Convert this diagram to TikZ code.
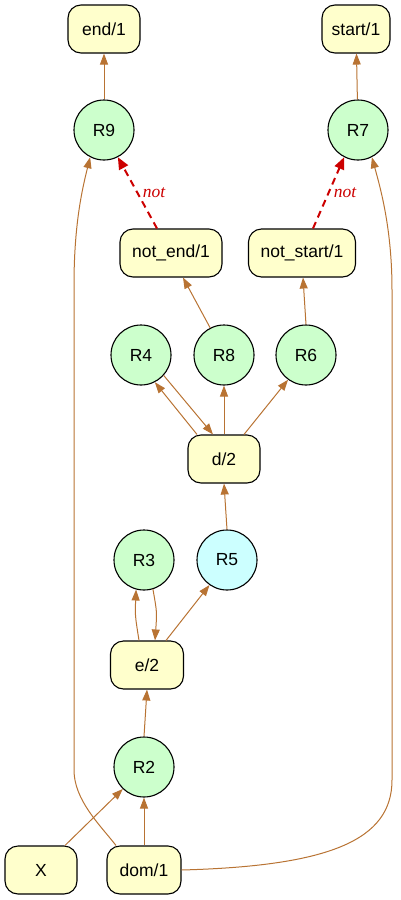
\documentclass[tikz,border=0pt]{standalone}
\usepackage{fontspec}
\setmainfont{Liberation Sans}
\newfontfamily\notfont{Liberation Serif}
\usetikzlibrary{arrows.meta}
\definecolor{boxfill}{HTML}{FFFFCC}
\definecolor{rulefill}{HTML}{CCFFCC}
\definecolor{rulecyan}{HTML}{CCFFFF}
\definecolor{edgecol}{HTML}{B87333}
\definecolor{negcol}{HTML}{CC0000}
\tikzset{
  pred/.style={draw=black, line width=1.1pt, fill=boxfill, rounded corners=13pt, minimum height=48pt, inner sep=0pt, font=\fontsize{17.5}{20}\selectfont},
  rulenode/.style={draw=black, line width=1.1pt, fill=rulefill, circle, minimum size=60pt, inner sep=0pt, font=\fontsize{17.5}{20}\selectfont},
  edge/.style={draw=edgecol, line width=1pt, -{Triangle[length=11pt,width=8pt]}},
  negedge/.style={draw=negcol, line width=2pt, dash pattern=on 7pt off 5pt, -{Triangle[length=12pt,width=10pt]}},
  notlabel/.style={text=negcol, font=\notfont\itshape\fontsize{17.5}{20}\selectfont}
}
\begin{document}
\begin{tikzpicture}[x=1pt,y=-1pt]
\useasboundingbox (0,0) rectangle (400,900);
% predicate nodes
\node[pred, minimum width=72pt] (end) at (104,29) {end/1};
\node[pred, minimum width=68pt] (start) at (356,29) {start/1};
\node[pred, minimum width=102pt] (notend) at (171,253) {not\_end/1};
\node[pred, minimum width=107pt] (notstart) at (302,253) {not\_start/1};
\node[pred, minimum width=72pt] (d) at (224,459) {d/2};
\node[pred, minimum width=73pt] (e) at (147,665) {e/2};
\node[pred, minimum width=72pt] (X) at (41,870) {X};
\node[pred, minimum width=74pt] (dom) at (144,870) {dom/1};
% rule nodes
\node[rulenode] (R9) at (104,130) {R9};
\node[rulenode] (R7) at (358,130) {R7};
\node[rulenode] (R4) at (141,355) {R4};
\node[rulenode] (R8) at (224,355) {R8};
\node[rulenode] (R6) at (306,355) {R6};
\node[rulenode] (R3) at (144,560) {R3};
\node[rulenode, fill=rulecyan] (R5) at (227,560) {R5};
\node[rulenode] (R2) at (144,767) {R2};
% edges
\draw[edge] (R9) -- (end);
\draw[edge] (R7) -- (start);
\draw[negedge] ([xshift=-14pt]notend.north) -- (R9.-63)
  node[notlabel, pos=0.5, right, xshift=1pt] {not};
\draw[negedge] ([xshift=11pt]notstart.north) -- (R7.-117)
  node[notlabel, pos=0.5, right, xshift=1pt] {not};
\draw[edge] (R8.117) -- ([xshift=12pt]notend.south);
\draw[edge] (R6.north) -- ([xshift=1pt]notstart.south);
\draw[edge] ([xshift=-27pt]d.north) -- (R4.-63);
\draw[edge] (R4.-42) -- ([xshift=-11pt]d.north);
\draw[edge] (d.north) -- (R8.south);
\draw[edge] ([xshift=20pt]d.north) -- (R6.-126);
\draw[edge] (R5.north) -- (d.south);
\draw[edge] ([xshift=-8pt]e.north) .. controls (135,615) .. (R3.-105);
\draw[edge] (R3.-73) .. controls (157,612) .. ([xshift=8pt]e.north);
\draw[edge] ([xshift=19pt]e.north) -- (R5.-125);
\draw[edge] (R2.north) -- (e.south);
\draw[edge] ([xshift=24pt]X.north) -- (R2.-134);
\draw[edge] (dom.north) -- (R2.south);
\draw[edge] ([xshift=-28pt]dom.north) .. controls (100,825) and (74,800) .. (74,770)
  -- (74,285) .. controls (74,225) and (82,190) .. (R9.-117);
\draw[edge] (dom.east) .. controls (330,866) and (392,840) .. (392,780)
  -- (392,290) .. controls (392,230) and (381,190) .. (R7.-63);
\end{tikzpicture}
\end{document}
